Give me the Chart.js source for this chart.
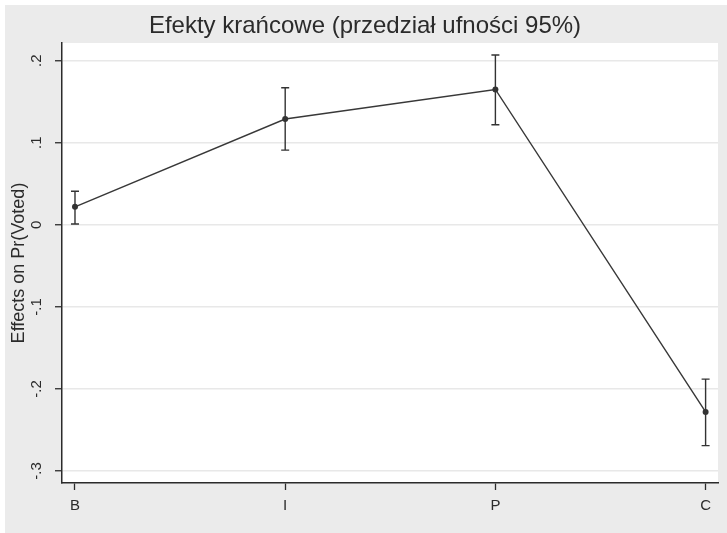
<!DOCTYPE html>
<html>
<head>
<meta charset="utf-8">
<script src="https://cdn.jsdelivr.net/npm/chart.js@4/dist/chart.umd.min.js"></script>
<style>
  html, body { margin: 0; padding: 0; background: #ffffff; }
  canvas { display: block; }
</style>
</head>
<body>
<canvas id="chart" width="727" height="533"></canvas>
<script>
// Marginal effects on Pr(Voted) with 95% confidence intervals
const categories = ['B', 'I', 'P', 'C'];
const effects = [0.022, 0.129, 0.165, -0.228];
const ciLower = [0.001, 0.091, 0.122, -0.269];
const ciUpper = [0.041, 0.167, 0.207, -0.188];
const yTickValues = [-0.3, -0.2, -0.1, 0, 0.1, 0.2];
const yTickLabels = ['-.3', '-.2', '-.1', '0', '.1', '.2'];

const INK = '#2b2b2b';
const FONT = "'Liberation Sans', Arial, Helvetica, sans-serif";
Chart.defaults.font.family = FONT;
Chart.defaults.color = INK;

// Grey page frame with a white plot region
const frame = {
  id: 'frame',
  beforeDraw(chart) {
    const { ctx, chartArea: a, width, height } = chart;
    ctx.save();
    ctx.fillStyle = '#ffffff';
    ctx.fillRect(0, 0, width, height);
    ctx.fillStyle = '#ebebeb';
    ctx.fillRect(5, 5, width - 5, height - 5);
    ctx.fillStyle = '#ffffff';
    ctx.fillRect(a.left, a.top, a.right - a.left, a.bottom - a.top);
    ctx.restore();
  }
};

// Capped vertical whiskers for the confidence intervals
const whiskers = {
  id: 'whiskers',
  afterDatasetsDraw(chart) {
    const { ctx, scales: { x, y } } = chart;
    ctx.save();
    ctx.strokeStyle = '#333333';
    ctx.lineWidth = 1.4;
    const cap = 4;
    categories.forEach((_, i) => {
      const px = x.getPixelForValue(i);
      const lo = y.getPixelForValue(ciLower[i]);
      const hi = y.getPixelForValue(ciUpper[i]);
      ctx.beginPath();
      ctx.moveTo(px, lo); ctx.lineTo(px, hi);
      ctx.moveTo(px - cap, lo); ctx.lineTo(px + cap, lo);
      ctx.moveTo(px - cap, hi); ctx.lineTo(px + cap, hi);
      ctx.stroke();
    });
    ctx.restore();
  }
};

new Chart(document.getElementById('chart'), {
  type: 'line',
  data: {
    datasets: [{
      data: effects.map((v, i) => ({ x: i, y: v })),
      borderColor: '#383838',
      borderWidth: 1.4,
      pointRadius: 3,
      pointBackgroundColor: '#333333',
      pointBorderColor: '#333333',
      pointBorderWidth: 0,
      tension: 0,
      fill: false
    }]
  },
  options: {
    responsive: false,
    animation: false,
    layout: { padding: { left: 12, right: 9, top: 0, bottom: 0 } },
    plugins: {
      legend: { display: false },
      tooltip: { enabled: false },
      title: {
        display: true,
        text: 'Efekty krańcowe (przedział ufności 95%)',
        color: INK,
        font: { size: 24, weight: 'normal', family: FONT },
        padding: { top: 12.4, bottom: 1.8 }
      }
    },
    scales: {
      x: {
        type: 'linear',
        min: -0.0618,
        max: 3.059,
        afterBuildTicks(scale) { scale.ticks = categories.map((_, i) => ({ value: i })); },
        afterFit(scale) { scale.height = 50; },
        ticks: {
          callback: (v) => categories[v],
          font: { size: 15 },
          color: INK,
          padding: 7,
          maxRotation: 0,
          autoSkip: false
        },
        grid: { display: true, drawOnChartArea: false, tickLength: 7, tickColor: INK, tickWidth: 1.3 },
        border: { display: true, color: INK, width: 1.5 }
      },
      y: {
        type: 'linear',
        min: -0.3146,
        max: 0.2216,
        afterBuildTicks(scale) { scale.ticks = yTickValues.map(v => ({ value: v })); },
        afterFit(scale) { scale.width = 50; },
        ticks: {
          callback: (v, i) => yTickLabels[i],
          font: { size: 15 },
          color: INK,
          minRotation: 90,
          maxRotation: 90,
          crossAlign: 'center',
          padding: 9,
          autoSkip: false
        },
        grid: { color: '#e8e8e8', lineWidth: 1.5, tickLength: 7, tickColor: INK, tickWidth: 1.3 },
        border: { display: true, color: INK, width: 1.5 },
        title: {
          display: true,
          text: 'Effects on Pr(Voted)',
          color: INK,
          font: { size: 18 },
          padding: { top: -4, bottom: 0 }
        }
      }
    }
  },
  plugins: [frame, whiskers]
});
</script>
</body>
</html>
